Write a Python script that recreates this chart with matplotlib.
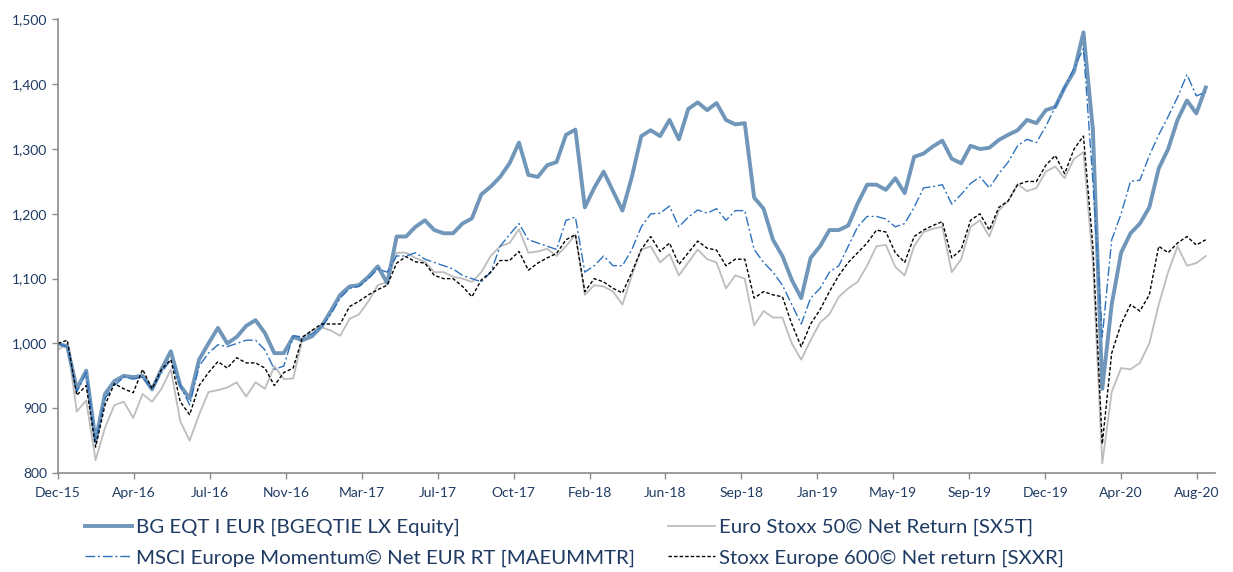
import matplotlib
matplotlib.use("Agg")
import matplotlib.pyplot as plt
import matplotlib.dates as mdates
import matplotlib.ticker as mticker
import numpy as np
import pandas as pd

dates = pd.date_range("2015-12-16", periods=123, freq="14D")

bg_eqt = [
    1000, 995, 930, 958, 850, 922, 942, 950, 948, 950,
    929, 960, 988, 935, 915, 975, 1000, 1024, 1000, 1010,
    1027, 1036, 1016, 985, 985, 1010, 1005, 1011, 1026, 1050,
    1075, 1088, 1090, 1103, 1119, 1093, 1165, 1165, 1180, 1190,
    1175, 1170, 1170, 1185, 1193, 1230, 1242, 1257, 1278, 1310,
    1260, 1257, 1275, 1280, 1322, 1330, 1210, 1240, 1265, 1235,
    1205, 1257, 1320, 1329, 1320, 1345, 1315, 1362, 1372, 1360,
    1371, 1345, 1338, 1340, 1225, 1208, 1160, 1135, 1098, 1070,
    1132, 1150, 1175, 1175, 1182, 1216, 1245, 1245, 1237, 1255,
    1232, 1288, 1293, 1304, 1313, 1285, 1278, 1305, 1300, 1302,
    1314, 1322, 1329, 1345, 1340, 1360, 1365, 1395, 1420, 1480,
    1330, 930, 1060, 1140, 1170, 1185, 1210, 1270, 1300, 1345,
    1375, 1355, 1395,
]

euro_stoxx50 = [
    990, 1000, 895, 912, 820, 870, 905, 910, 885, 922,
    910, 930, 960, 880, 850, 890, 925, 928, 932, 940,
    918, 940, 930, 965, 945, 946, 1008, 1020, 1025, 1020,
    1012, 1038, 1045, 1065, 1090, 1095, 1140, 1140, 1132, 1126,
    1110, 1110, 1103, 1100, 1095, 1110, 1135, 1150, 1155, 1176,
    1140, 1142, 1146, 1135, 1150, 1168, 1075, 1090, 1088, 1080,
    1060, 1105, 1145, 1150, 1125, 1138, 1105, 1125, 1145, 1130,
    1125, 1085, 1105, 1100, 1028, 1050, 1040, 1040, 1000, 975,
    1005, 1032, 1045, 1072, 1085, 1095, 1120, 1150, 1152, 1118,
    1105, 1150, 1172, 1177, 1180, 1110, 1130, 1180, 1190, 1165,
    1205, 1220, 1246, 1235, 1240, 1265, 1273, 1255, 1285, 1295,
    1125, 815, 925, 962, 960, 970, 1000, 1060, 1110, 1150,
    1120, 1124, 1135,
]

msci_momentum = [
    1000, 995, 925, 955, 848, 915, 935, 948, 945, 948,
    930, 955, 975, 935, 905, 965, 985, 998, 995, 1000,
    1005, 1005, 990, 960, 965, 1012, 1010, 1015, 1025, 1045,
    1070, 1085, 1088, 1100, 1115, 1110, 1135, 1135, 1140, 1130,
    1125, 1120, 1115, 1105, 1100, 1095, 1110, 1150, 1168, 1185,
    1160, 1155, 1150, 1145, 1190, 1195, 1110, 1120, 1135, 1120,
    1120, 1145, 1180, 1200, 1201, 1212, 1180, 1195, 1206, 1201,
    1208, 1190, 1205, 1205, 1145, 1125, 1110, 1090, 1060, 1030,
    1070, 1085, 1110, 1120, 1150, 1180, 1196, 1196, 1192, 1180,
    1185, 1210, 1240, 1242, 1245, 1215, 1230, 1247, 1257, 1240,
    1262, 1280, 1305, 1315, 1310, 1335, 1365, 1395, 1425, 1455,
    1250, 1010, 1160, 1200, 1250, 1252, 1290, 1322, 1350, 1380,
    1415, 1382, 1388,
]

stoxx600 = [
    1000, 1005, 920, 935, 840, 905, 938, 930, 924, 960,
    930, 960, 975, 910, 890, 935, 955, 972, 962, 978,
    970, 970, 962, 935, 955, 962, 1010, 1020, 1030, 1030,
    1030, 1057, 1065, 1075, 1083, 1090, 1124, 1134, 1126, 1124,
    1105, 1100, 1100, 1088, 1072, 1098, 1110, 1128, 1128, 1142,
    1113, 1124, 1132, 1139, 1160, 1168, 1080, 1100, 1095, 1085,
    1078, 1110, 1145, 1165, 1142, 1155, 1122, 1140, 1158, 1147,
    1144, 1120, 1130, 1130, 1070, 1080, 1075, 1072, 1030, 995,
    1030, 1052, 1080, 1105, 1125, 1140, 1155, 1175, 1172, 1140,
    1125, 1165, 1175, 1182, 1188, 1132, 1145, 1190, 1200, 1175,
    1210, 1220, 1245, 1250, 1250, 1275, 1290, 1262, 1300, 1320,
    1150, 845, 985, 1030, 1060, 1050, 1075, 1150, 1140, 1155,
    1165, 1152, 1160,
]

labels = [
    "BG EQT I EUR [BGEQTIE LX Equity]",
    "MSCI Europe Momentum© Net EUR RT [MAEUMMTR]",
    "Euro Stoxx 50© Net Return [SX5T]",
    "Stoxx Europe 600© Net return [SXXR]",
]

navy = "#1F3B63"
plt.rcParams["font.family"] = ["Lato", "DejaVu Sans"]

fig = plt.figure(figsize=(12.33, 5.72), dpi=100)
ax = fig.add_axes([0.047, 0.173, 0.938, 0.793])

l_sx5t, = ax.plot(dates, euro_stoxx50, color="#BDBDBD", lw=1.3)
l_bg, = ax.plot(dates, bg_eqt, color="#7096BA", lw=2.8)
l_msci, = ax.plot(dates, msci_momentum, color="#2E72BE", lw=1.0,
                  dashes=(7, 2, 1.5, 2))
l_sxxr, = ax.plot(dates, stoxx600, color="black", lw=1.0, dashes=(2.5, 1.5))

ax.set_ylim(800, 1500)
ax.yaxis.set_major_locator(mticker.MultipleLocator(100))
ax.yaxis.set_major_formatter(mticker.FuncFormatter(lambda v, p: f"{v:,.0f}"))

start = dates[0]
ticks = [start + pd.Timedelta(days=113 * k) for k in range(16)]
ax.set_xticks(ticks)
ax.xaxis.set_major_formatter(mdates.DateFormatter("%b-%y"))
ax.set_xlim(start, start + pd.Timedelta(days=1721))

for s in ["top", "right"]:
    ax.spines[s].set_visible(False)
for s in ["left", "bottom"]:
    ax.spines[s].set_color("#8C8C8C")
    ax.spines[s].set_linewidth(1.2)
ax.tick_params(axis="both", colors="#8C8C8C", length=4, width=1,
               labelcolor=navy, labelsize=10)
ax.tick_params(axis="x", pad=6)

fig.legend([l_bg, l_msci, l_sx5t, l_sxxr], labels, ncol=2, frameon=False,
           loc="upper left", bbox_to_anchor=(0.069, 0.093),
           fontsize=14.7, labelcolor=navy, handlelength=2.3,
           handletextpad=0.2, columnspacing=1.6, labelspacing=0.62,
           borderpad=0, borderaxespad=0)

fig.savefig("out.png", dpi=100)
